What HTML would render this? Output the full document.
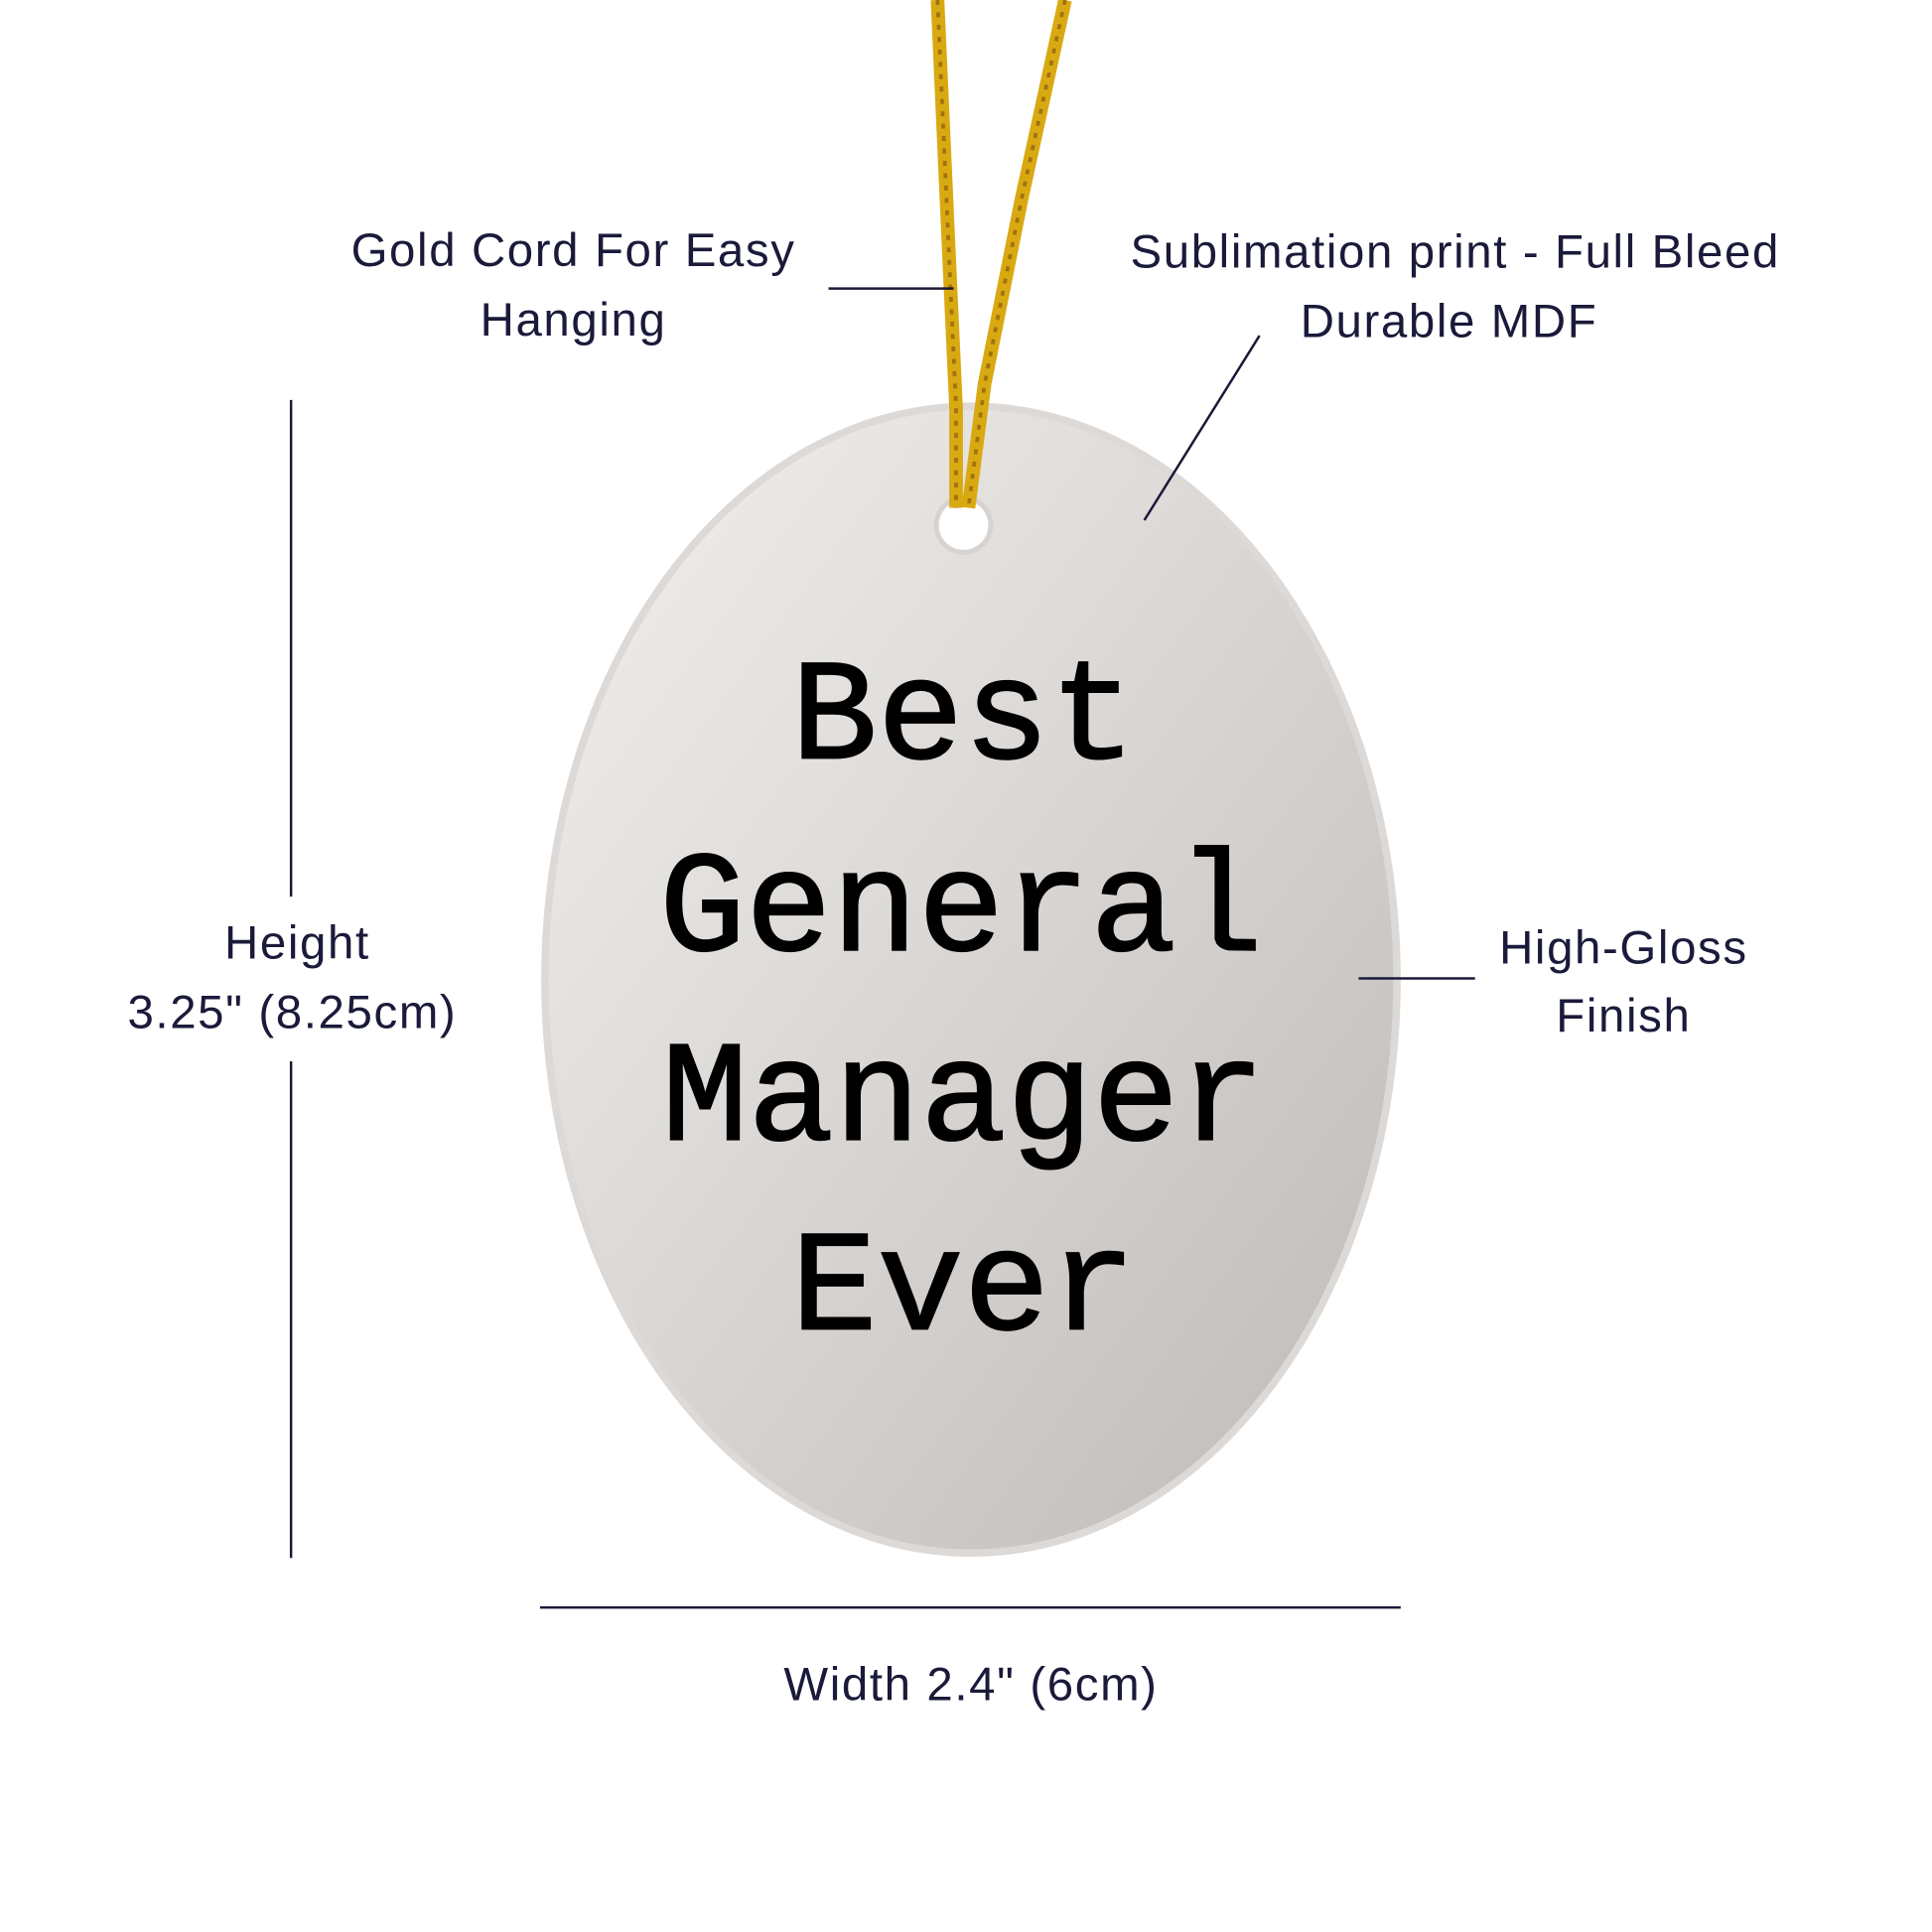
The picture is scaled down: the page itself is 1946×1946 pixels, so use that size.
<!DOCTYPE html>
<html><head><style>html,body{margin:0;padding:0;background:#fff;}svg{display:block}</style></head>
<body>
<svg width="1946" height="1946" viewBox="0 0 1560 1560" xmlns="http://www.w3.org/2000/svg">
<defs>
<linearGradient id="g" x1="0" y1="0" x2="1" y2="1">
<stop offset="0" stop-color="#f3f1ef"/><stop offset="1" stop-color="#bdb9b6"/>
</linearGradient>
</defs>
<rect width="1560" height="1560" fill="#fff"/>
<ellipse cx="784" cy="791" rx="347" ry="466" fill="#dcd9d6"/>
<ellipse cx="784" cy="791" rx="341" ry="460" fill="url(#g)"/>
<circle cx="778" cy="424" r="24" fill="#d6d3d0"/>
<circle cx="778" cy="424" r="20" fill="#fff"/>
<g stroke="#d9a912" stroke-width="11" fill="none">
<path d="M757 0 L766 200 L772 330 L772 410"/>
<path d="M860 0 L825 160 L795 310 L782 410"/>
</g>
<g stroke="#8a5a10" stroke-width="3" fill="none" stroke-dasharray="4 6" opacity="0.7">
<path d="M757 0 L766 200 L772 330 L772 410"/>
<path d="M860 0 L825 160 L795 310 L782 410"/>
</g>
<g font-family="Liberation Mono, monospace" font-size="116" fill="#000" text-anchor="middle" stroke="#000" stroke-width="1.5">
<text x="778" y="612">Best</text>
<text x="776" y="767">General</text>
<text x="778" y="920">Manager</text>
<text x="778" y="1073">Ever</text>
</g>
<g stroke="#1a1a3a" stroke-width="2">
<line x1="669" y1="233" x2="770" y2="233"/>
<line x1="1017" y1="271" x2="924" y2="420"/>
<line x1="235" y1="323" x2="235" y2="724"/>
<line x1="235" y1="857" x2="235" y2="1258"/>
<line x1="1097" y1="790" x2="1191" y2="790"/>
<line x1="436" y1="1298" x2="1131" y2="1298"/>
</g>
<g font-family="Liberation Sans, sans-serif" font-size="38" letter-spacing="1.3" fill="#1a1a3a" text-anchor="middle">
<text x="463" y="215">Gold Cord For Easy</text>
<text x="463" y="271">Hanging</text>
<text x="1175" y="216">Sublimation print - Full Bleed</text>
<text x="1170" y="272">Durable MDF</text>
<text x="240" y="774">Height</text>
<text x="236" y="830">3.25" (8.25cm)</text>
<text x="1311" y="778">High-Gloss</text>
<text x="1311" y="833">Finish</text>
<text x="784" y="1373">Width 2.4" (6cm)</text>
</g>
</svg>
</body></html>
